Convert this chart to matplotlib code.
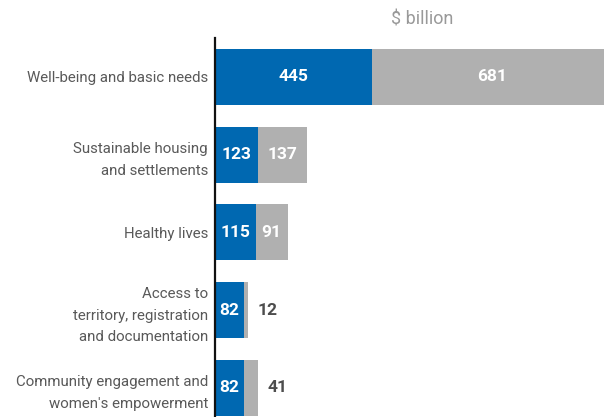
import matplotlib
matplotlib.use('Agg')
import matplotlib.pyplot as plt

categories = [
    'Well-being and basic needs',
    'Sustainable housing\nand settlements',
    'Healthy lives',
    'Access to\nterritory, registration\nand documentation',
    "Community engagement and\nwomen's empowerment",
]
blue_values = [445, 123, 115, 82, 82]
grey_values = [681, 137, 91, 12, 41]
unit_label = '$ billion'

BLUE = '#0068b1'
GREY = '#b0b0b0'

plt.rcParams['font.family'] = ['Roboto', 'DejaVu Sans']


def main():
  fig = plt.figure(figsize=(6.04, 4.17), dpi=100)
  ax = fig.add_axes([215 / 604, 0, 1 - 215 / 604, (417 - 38) / 417])
  ypos = list(range(len(categories)))
  h = 0.72
  ax.barh(ypos, blue_values, height=h, color=BLUE)
  ax.barh(ypos, grey_values, left=blue_values, height=h, color=GREY)

  for y, b, g in zip(ypos, blue_values, grey_values):
    ax.text(b / 2, y, str(b), ha='center', va='center', color='white',
            fontsize=12.5, fontweight='bold')
    if g >= 50:
      ax.text(b + g / 2, y, str(g), ha='center', va='center', color='white',
              fontsize=12.5, fontweight='bold')
    else:
      ax.annotate(str(g), (b + g, y), xytext=(6.5, 0), textcoords='offset points',
                  ha='left', va='center', color='#4d4d4d',
                  fontsize=12.5, fontweight='bold')

  ax.set_xlim(0, 1102)
  ax.set_ylim(4.375, -0.5)
  ax.set_yticks(ypos)
  ax.set_yticklabels(categories, fontsize=10.8, color='#595959',
                     multialignment='right', linespacing=1.72)
  ax.tick_params(axis='y', length=0, pad=5)
  ax.set_xticks([])
  for s in ['top', 'right', 'bottom']:
    ax.spines[s].set_visible(False)
  ax.spines['left'].set_linewidth(1.6)
  ax.spines['left'].set_color('#111111')

  fig.text(422 / 604, 1 - 20 / 417, unit_label, ha='center', va='center',
           fontsize=13, color='#999999')

  fig.savefig('out.png', dpi=100)


if __name__ == '__main__':
  main()
